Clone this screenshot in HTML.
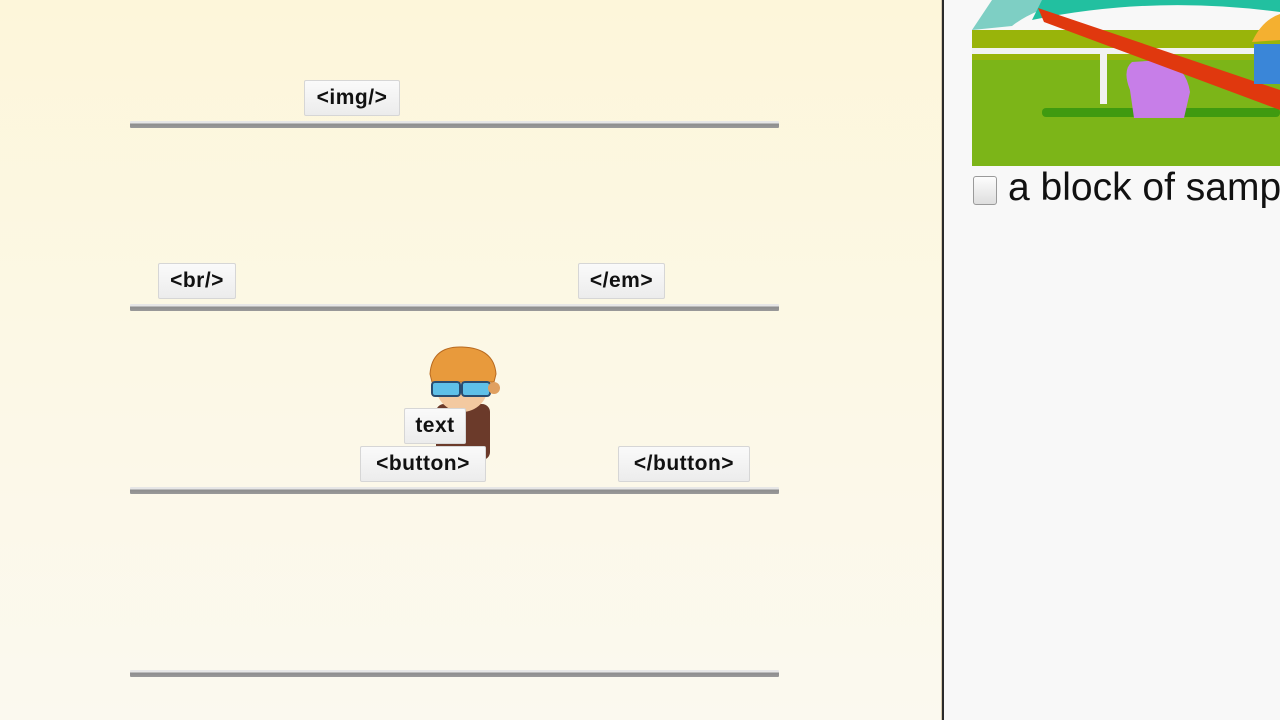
<!DOCTYPE html>
<html><head><meta charset="utf-8"><style>
*{margin:0;padding:0;box-sizing:border-box}
body{width:1280px;height:720px;overflow:hidden;position:relative;font-family:"Liberation Sans",sans-serif;background:#f8f8f8}
#left{position:absolute;left:0;top:0;width:942px;height:720px;background:linear-gradient(180deg,#fdf6da 0%,#fcf8e6 50%,#fbf9ef 100%)}
#div{position:absolute;left:941px;top:0;width:3px;height:720px;background:#2a2a2a;border-left:1px solid #d8ccb0}
.shelf{position:absolute;left:130px;width:649px;height:7px;background:linear-gradient(180deg,#e6e6e6 0,#e6e6e6 2px,#8e8e8e 3px,#9a9a9a 100%);border-radius:1px}
.tag{position:absolute;height:36px;background:linear-gradient(180deg,#fafafa,#ececec);border:1px solid #d6d6d6;border-radius:2px;font-weight:bold;font-size:21px;color:#111;text-align:center;line-height:34px;letter-spacing:0.5px}
</style></head><body>
<div id="left"></div>
<div class="shelf" style="top:121px"></div>
<div class="shelf" style="top:304px"></div>
<div class="shelf" style="top:487px"></div>
<div class="shelf" style="top:670px"></div>
<div class="tag" style="left:304px;top:80px;width:96px">&lt;img/&gt;</div>
<div class="tag" style="left:158px;top:263px;width:78px">&lt;br/&gt;</div>
<div class="tag" style="left:578px;top:263px;width:87px">&lt;/em&gt;</div>
<svg style="position:absolute;left:424px;top:344px" width="80" height="122" viewBox="0 0 80 122">
<rect x="12" y="60" width="54" height="56" rx="8" fill="#6b3a2a"/>
<circle cx="38" cy="42" r="26" fill="#f3c9a0"/>
<path d="M6 30 Q8 2 38 3 Q70 4 72 30 L70 38 L8 38Z" fill="#e89a3c" stroke="#b86a20"/>
<rect x="8" y="38" width="28" height="14" rx="3" fill="#5fc0e8" stroke="#2a4d70" stroke-width="2"/>
<rect x="38" y="38" width="28" height="14" rx="3" fill="#5fc0e8" stroke="#2a4d70" stroke-width="2"/>
<circle cx="70" cy="44" r="6" fill="#e0a060"/>
</svg>
<div class="tag" style="left:404px;top:408px;width:62px">text</div>
<div class="tag" style="left:360px;top:446px;width:126px">&lt;button&gt;</div>
<div class="tag" style="left:618px;top:446px;width:132px">&lt;/button&gt;</div>
<div id="div"></div>
<svg style="position:absolute;left:972px;top:0" width="308" height="166" viewBox="0 0 308 166">
<rect width="308" height="166" fill="#f8f8f8"/>
<rect x="0" y="30" width="308" height="136" fill="#7cb518"/>
<path d="M0 30 L308 30 L308 60 L0 60Z" fill="#99b40a"/>
<path d="M0 30 L20 0 L100 0 Q60 10 40 26Z" fill="#7ecfc4"/>
<path d="M60 20 Q180 -5 308 12 L308 0 L70 0Z" fill="#22c0a0"/>
<rect x="0" y="48" width="308" height="6" fill="#f2f2f2"/>
<rect x="128" y="52" width="7" height="52" fill="#f2f2f2"/>
<rect x="70" y="108" width="238" height="9" rx="4" fill="#3f9a10"/>
<path d="M160 62 Q150 70 158 90 L162 118 L212 118 L218 92 Q214 66 190 60Z" fill="#c77ee8"/>
<path d="M66 8 L72 22 L308 110 L308 90Z" fill="#e0380e"/>
<rect x="282" y="44" width="26" height="40" fill="#3a86d8"/>
<path d="M280 42 Q290 20 308 14 L308 40Z" fill="#f4b030"/>
</svg>
<div style="position:absolute;left:973px;top:176px;width:24px;height:29px;border:1px solid #9a9a9a;border-radius:3px;background:linear-gradient(180deg,#fdfdfd,#dedede)"></div>
<div style="position:absolute;left:1008px;top:165px;font-size:39px;color:#111;white-space:nowrap;line-height:46px">a block of sample</div>
</body></html>
